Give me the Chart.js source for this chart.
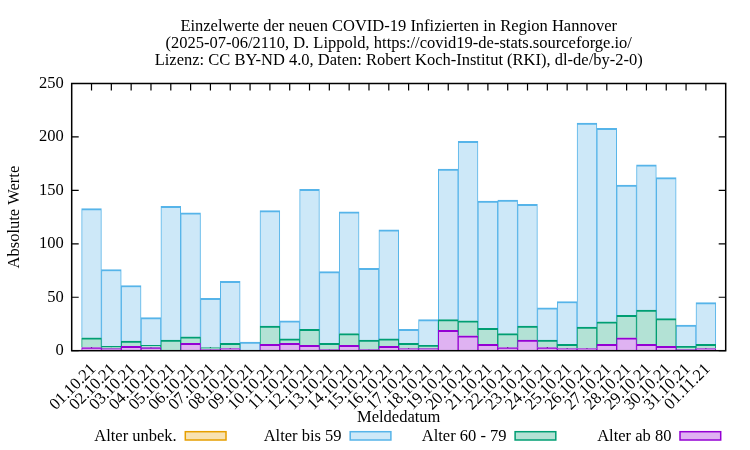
<!DOCTYPE html>
<html><head><meta charset="utf-8">
<script src="https://cdn.jsdelivr.net/npm/chart.js@4/dist/chart.umd.min.js"></script>
<style>html,body{margin:0;padding:0;background:#fff;}</style>
</head><body>
<canvas id="c" width="750" height="450"></canvas>
<script>
const categories = ['01.10.21','02.10.21','03.10.21','04.10.21','05.10.21','06.10.21','07.10.21','08.10.21','09.10.21','10.10.21','11.10.21','12.10.21','13.10.21','14.10.21','15.10.21','16.10.21','17.10.21','18.10.21','19.10.21','20.10.21','21.10.21','22.10.21','23.10.21','24.10.21','25.10.21','26.10.21','27.10.21','28.10.21','29.10.21','30.10.21','31.10.21','01.11.21'];
const alterUnbek   = [0,0,0,0,0,0,0,0,0,0,0,0,0,0,0,0,0,0,0,0,0,0,0,0,0,0,0,0,0,0,0,0];
const alterBis59   = [121,72,52,26,125,116,46,58,8,108,17,131,67,114,67,102,13,24,141,168,119,125,114,30,40,191,181,122,136,132,20,39];
const alter60bis79 = [9,2,5,2,10,6,2,5,0,17,4,15,6,11,9,7,5,3,10,14,15,13,13,7,4,20,21,21,32,26,3,4];
const alterAb80    = [3,2,4,3,0,7,1,2,0,6,7,5,1,5,1,4,2,2,19,14,6,3,10,3,2,2,6,12,6,4,1,2];
const yTicks = [0,50,100,150,200,250];
const seriesNames = ['Alter unbek.','Alter bis 59','Alter 60 - 79','Alter ab 80'];
const titleLines = ['Einzelwerte der neuen COVID-19 Infizierten in Region Hannover','(2025-07-06/2110, D. Lippold, https://covid19-de-stats.sourceforge.io/','Lizenz: CC BY-ND 4.0, Daten: Robert Koch-Institut (RKI), dl-de/by-2-0)'];
const xTitle = 'Meldedatum';
const yTitle = 'Absolute Werte';

const FONT = 'Liberation Serif';
const FS = 16.5;
Chart.defaults.font.family = FONT;
Chart.defaults.font.size = FS;
Chart.defaults.color = '#000';

const pts = arr => arr.map((v, i) => ({x: i, y: v}));
const bw = {top: 2, left: 1, right: 1, bottom: 0};
const mk = (label, arr, border, bg) => ({label, data: pts(arr), borderColor: border, backgroundColor: bg,
  borderWidth: bw, borderSkipped: false, barPercentage: 1, categoryPercentage: 1});

// stacking order: first dataset at the bottom
const datasets = [
  mk(seriesNames[3], alterAb80, '#9400d3', '#dfb2f2'),
  mk(seriesNames[2], alter60bis79, '#009e73', '#b3e2d5'),
  mk(seriesNames[1], alterBis59, '#56b4e9', '#cde8f8'),
  mk(seriesNames[0], alterUnbek, '#e69f00', '#f8e2b2')
];

const decor = {
  id: 'decor',
  beforeDatasetsDraw(chart) {
    const {ctx, chartArea: a, scales: {x, y}} = chart;
    ctx.save();
    ctx.strokeStyle = '#000'; ctx.lineWidth = 1.2;
    ctx.beginPath();
    categories.forEach((_, i) => {
      const px = x.getPixelForValue(i);
      ctx.moveTo(px, a.top); ctx.lineTo(px, a.top + 7);
      ctx.moveTo(px, a.bottom); ctx.lineTo(px, a.bottom - 7);
    });
    yTicks.forEach(v => {
      const py = y.getPixelForValue(v);
      ctx.moveTo(a.left, py); ctx.lineTo(a.left + 7, py);
      ctx.moveTo(a.right, py); ctx.lineTo(a.right - 7, py);
    });
    ctx.stroke();
    ctx.restore();
  },
  afterDatasetsDraw(chart) {
    const {ctx, chartArea: a} = chart;
    ctx.save();
    ctx.strokeStyle = '#000'; ctx.lineWidth = 1.5;
    ctx.strokeRect(a.left, a.top, a.right - a.left, a.bottom - a.top);
    ctx.restore();
  },
  afterDraw(chart) {
    const {ctx, chartArea: a} = chart;
    ctx.save();
    ctx.fillStyle = '#000';
    ctx.font = FS + 'px "' + FONT + '"';
    ctx.textAlign = 'center'; ctx.textBaseline = 'middle';
    const cx = (a.left + a.right) / 2;
    titleLines.forEach((t, i) => ctx.fillText(t, cx, 27 + 17 * i));
    // legend: text followed by sample box, legend order = reverse of stacking
    const items = chart.data.datasets.slice().reverse();
    ctx.textAlign = 'right';
    items.forEach((ds, i) => {
      const boxRight = 226 + 164.9 * i;
      const boxLeft = boxRight - 40.7;
      ctx.fillStyle = ds.backgroundColor;
      ctx.fillRect(boxLeft, 431.7, 40.7, 8.3);
      ctx.strokeStyle = ds.borderColor; ctx.lineWidth = 1.5;
      ctx.strokeRect(boxLeft, 431.7, 40.7, 8.3);
      ctx.fillStyle = '#000';
      ctx.fillText(ds.label, boxLeft - 8.6, 437);
    });
    ctx.restore();
  }
};

new Chart(document.getElementById('c'), {
  type: 'bar',
  data: {datasets},
  options: {
    responsive: false, animation: false, devicePixelRatio: 1,
    layout: {padding: {top: 83.5, right: 24.3, bottom: 22, left: 0}},
    plugins: {legend: {display: false}, tooltip: {enabled: false}, title: {display: false}},
    scales: {
      x: {
        type: 'linear', min: -1, max: categories.length, stacked: true, offset: false,
        grid: {display: false, drawTicks: false}, border: {display: false},
        afterBuildTicks: s => { s.ticks = []; for (let v = -1; v <= categories.length; v++) s.ticks.push({value: v}); },
        ticks: {autoSkip: false, maxRotation: 45, minRotation: 45, padding: 9, labelOffset: 2,
          callback: v => (Number.isInteger(v) && categories[v]) ? categories[v] : ''},
        title: {display: true, text: xTitle, padding: {top: 0, bottom: 0}},
        afterFit: s => { s.height = 77.3; }
      },
      y: {
        min: 0, max: 250, stacked: true,
        grid: {display: false, drawTicks: false}, border: {display: false},
        afterBuildTicks: s => { s.ticks = yTicks.map(v => ({value: v})); },
        ticks: {padding: 8},
        title: {display: true, text: yTitle, padding: {top: 5, bottom: 0}},
        afterFit: s => { s.width = 71.7; }
      }
    }
  },
  plugins: [decor]
});
</script>
</body></html>
